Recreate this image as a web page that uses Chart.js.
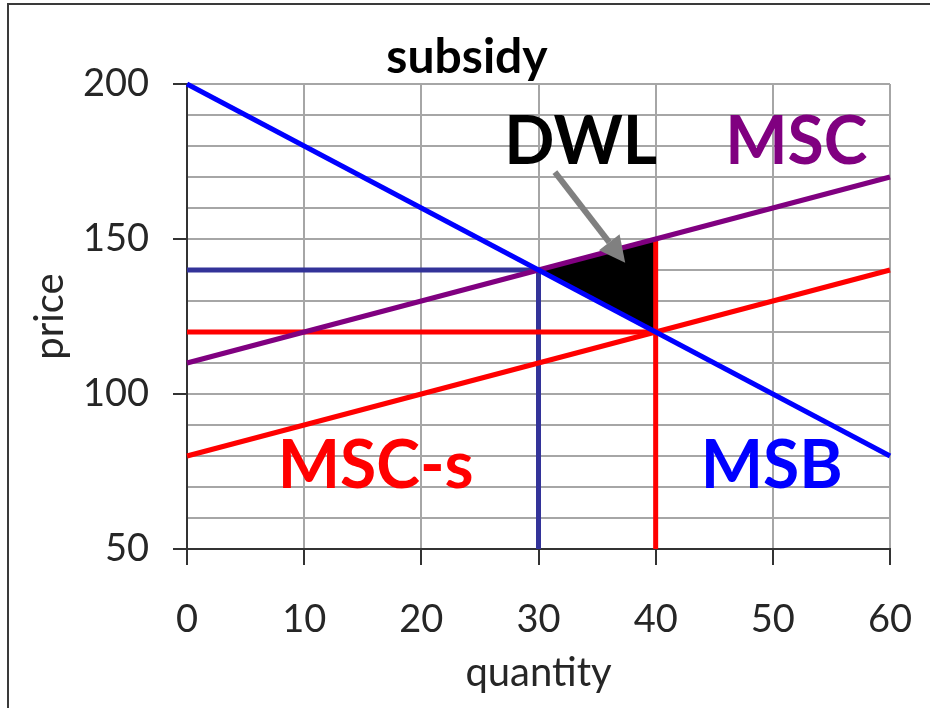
<!DOCTYPE html>
<html>
<head>
<meta charset="utf-8">
<script src="https://cdn.jsdelivr.net/npm/chart.js@4/dist/chart.umd.min.js"></script>
<style>
  html, body { margin: 0; padding: 0; background: #fff; }
  #wrap { width: 930px; height: 708px; position: relative; }
</style>
</head>
<body>
<div id="wrap"><canvas id="c" width="930" height="708"></canvas></div>
<script>
// Curve end points (quantity 0 and 60)
const quantityEnds = [0, 60];
const msb = [200, 80];        // marginal social benefit
const msc = [110, 170];       // marginal social cost
const mscLessSubsidy = [80, 140];

// Market outcome without subsidy: Q = 30, P = 140
const optimumQ = 30;
const optimumP = 140;
// Outcome with subsidy: Q = 40, price 120, cost 150
const subsidyQ = 40;
const subsidyP = 120;
const subsidyCost = 150;

// Deadweight-loss triangle corners
const dwlQ = [30, 40, 40];
const dwlP = [140, 150, 120];

// Axis ranges and tick labels
const xTicks = [0, 10, 20, 30, 40, 50, 60];
const yTickLabels = [50, 100, 150, 200];

// Text callouts placed in data units
const calloutText = ['DWL', 'MSC', 'MSC-s', 'MSB'];
const calloutQ = [33.6, 52.0, 16.1, 49.9];
const calloutP = [181, 181, 76.5, 76.5];
const calloutColor = ['#000000', '#800080', '#FF0000', '#0000FF'];

// Arrow from the DWL label to the triangle
const arrowFrom = [31.4, 171.6];
const arrowTo = [37.4, 142.3];

const FONT = 'Lato, "Open Sans", "DejaVu Sans", sans-serif';

const pts = (xs, ys) => xs.map((x, i) => ({ x, y: ys[i] }));

const triangle = pts(dwlQ, dwlP);
triangle.push({ x: dwlQ[0], y: dwlP[0] });

const datasets = [
  { label: 'DWL', data: triangle, borderColor: '#000', borderWidth: 1,
    backgroundColor: '#000', fill: 'shape', order: 10 },
  { label: 'P140', data: [{ x: 0, y: optimumP }, { x: optimumQ, y: optimumP }, { x: optimumQ, y: 50 }],
    borderColor: '#333399', borderWidth: 5, order: 8 },
  { label: 'P120', data: [{ x: 0, y: subsidyP }, { x: subsidyQ, y: subsidyP }],
    borderColor: '#FF0000', borderWidth: 5, order: 7 },
  { label: 'Q40', data: [{ x: subsidyQ, y: 50 }, { x: subsidyQ, y: subsidyCost }],
    borderColor: '#FF0000', borderWidth: 5, order: 6 },
  { label: 'MSC-s', data: pts(quantityEnds, mscLessSubsidy), borderColor: '#FF0000', borderWidth: 5, order: 5 },
  { label: 'MSC', data: pts(quantityEnds, msc), borderColor: '#800080', borderWidth: 5, order: 4 },
  { label: 'MSB', data: pts(quantityEnds, msb), borderColor: '#0000FF', borderWidth: 5, order: 3 }
].map(d => Object.assign({ showLine: true, pointRadius: 0, tension: 0, fill: false, clip: false }, d));

const decorations = {
  id: 'decorations',
  beforeDraw(chart) {
    const ctx = chart.ctx;
    ctx.save();
    ctx.fillStyle = '#fff';
    ctx.fillRect(0, 0, chart.width, chart.height);
    // outer frame
    ctx.strokeStyle = '#3a3a3a';
    ctx.lineWidth = 2;
    ctx.beginPath();
    ctx.moveTo(8, 708);
    ctx.lineTo(8, 4);
    ctx.lineTo(930, 4);
    ctx.stroke();
    // title
    ctx.fillStyle = '#000';
    ctx.font = 'bold 48px ' + FONT;
    ctx.textAlign = 'center';
    ctx.textBaseline = 'middle';
    ctx.fillText('subsidy', 467, 58);
    ctx.restore();
  },
  afterDatasetsDraw(chart) {
    const ctx = chart.ctx;
    const xs = chart.scales.x, ys = chart.scales.y;
    ctx.save();
    // arrow
    const x0 = xs.getPixelForValue(arrowFrom[0]), y0 = ys.getPixelForValue(arrowFrom[1]);
    const x1 = xs.getPixelForValue(arrowTo[0]), y1 = ys.getPixelForValue(arrowTo[1]);
    const ang = Math.atan2(y1 - y0, x1 - x0);
    const headLen = 26, headW = 13;
    const bx = x1 - headLen * Math.cos(ang), by = y1 - headLen * Math.sin(ang);
    ctx.strokeStyle = '#808080';
    ctx.fillStyle = '#808080';
    ctx.lineWidth = 6;
    ctx.beginPath();
    ctx.moveTo(x0, y0);
    ctx.lineTo(bx, by);
    ctx.stroke();
    ctx.beginPath();
    ctx.moveTo(x1, y1);
    ctx.lineTo(bx + headW * Math.sin(ang), by - headW * Math.cos(ang));
    ctx.lineTo(bx - headW * Math.sin(ang), by + headW * Math.cos(ang));
    ctx.closePath();
    ctx.fill();
    // callouts
    ctx.font = 'bold 66px ' + FONT;
    ctx.textAlign = 'center';
    ctx.textBaseline = 'middle';
    calloutText.forEach((t, i) => {
      ctx.fillStyle = calloutColor[i];
      ctx.fillText(t, xs.getPixelForValue(calloutQ[i]), ys.getPixelForValue(calloutP[i]));
    });
    ctx.restore();
  }
};

new Chart(document.getElementById('c'), {
  type: 'scatter',
  data: { datasets },
  options: {
    responsive: false,
    animation: false,
    events: [],
    layout: { padding: { left: 0, right: 40, top: 84, bottom: 0 } },
    plugins: { legend: { display: false }, tooltip: { enabled: false } },
    scales: {
      x: {
        type: 'linear',
        min: xTicks[0], max: xTicks[xTicks.length - 1],
        afterFit(s) { s.height = 159; s.paddingLeft = 0; s.paddingRight = 0; },
        afterBuildTicks(s) { s.ticks = xTicks.map(v => ({ value: v })); },
        border: { color: '#333', width: 2 },
        grid: { color: '#a6a6a6', lineWidth: 2, tickLength: 16, tickColor: '#333', tickWidth: 2 },
        ticks: { color: '#262626', font: { family: FONT, size: 38 }, padding: 32, maxRotation: 0 },
        title: { display: true, text: 'quantity', color: '#262626',
                 font: { family: FONT, size: 40 }, padding: { top: 0, bottom: 11 } }
      },
      y: {
        type: 'linear',
        min: 50, max: 200,
        afterFit(s) { s.width = 187; s.paddingTop = 0; s.paddingBottom = 0; },
        border: { color: '#333', width: 2 },
        grid: { color: '#a6a6a6', lineWidth: 2, tickLength: 14, tickWidth: 2,
                tickColor: c => (yTickLabels.includes(c.tick.value) ? '#333' : 'rgba(0,0,0,0)') },
        ticks: { stepSize: 10, autoSkip: false, color: '#262626',
                 font: { family: FONT, size: 38 }, padding: 24,
                 callback: v => (yTickLabels.includes(v) ? String(v) : '') },
        title: { display: true, text: 'price', color: '#262626',
                 font: { family: FONT, size: 40 }, padding: { top: 26, bottom: 0 } }
      }
    }
  },
  plugins: [decorations]
});
</script>
</body>
</html>
